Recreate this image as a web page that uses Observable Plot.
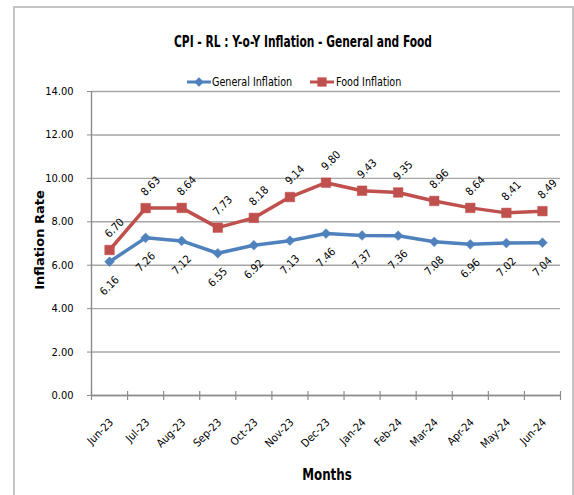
<!DOCTYPE html>
<html><head><meta charset="utf-8">
<script src="https://cdn.jsdelivr.net/npm/d3@7"></script>
<script src="https://cdn.jsdelivr.net/npm/@observablehq/plot@0.6"></script>
<style>
body{margin:0;background:#fff;}
#wrap{position:relative;width:574px;height:495px;overflow:hidden;font-family:"Liberation Sans Narrow","Arial Narrow","DejaVu Sans Condensed",sans-serif;color:#000;}
#frame{position:absolute;left:13px;top:6px;width:557px;height:540px;border:2px solid #c4c4c4;}
#title{position:absolute;left:0;width:606px;top:33px;text-align:center;font-weight:bold;font-size:15px;line-height:18px;white-space:nowrap;transform:scaleX(0.79);transform-origin:303px 50%;}
.lg{position:absolute;top:74px;height:16px;display:flex;align-items:center;}
.lgtext{position:absolute;top:74px;font-size:12px;line-height:16px;white-space:nowrap;transform:scaleX(0.89);transform-origin:0 50%;}
#ytitle{position:absolute;left:39px;top:240px;transform:translate(-50%,-50%) rotate(-90deg);font-family:"DejaVu Sans",sans-serif;font-weight:bold;font-size:13px;white-space:nowrap;}
#xtitle{position:absolute;left:0;width:654px;top:466px;text-align:center;font-weight:bold;font-size:15px;line-height:18px;transform:scaleX(0.88);transform-origin:327px 50%;}
#chart{position:absolute;left:0;top:0;}
</style>
</head><body>
<div id="wrap">
  <div id="frame"></div>
  <div id="chart"></div>
  <div id="title">CPI - RL : Y-o-Y Inflation - General and Food</div>
  <div id="legend"></div>
  <div id="ytitle">Inflation Rate</div>
  <div id="xtitle">Months</div>
</div>
<script>
const months = ["Jun-23","Jul-23","Aug-23","Sep-23","Oct-23","Nov-23","Dec-23","Jan-24","Feb-24","Mar-24","Apr-24","May-24","Jun-24"];
const generalInflation = [6.16, 7.26, 7.12, 6.55, 6.92, 7.13, 7.46, 7.37, 7.36, 7.08, 6.96, 7.02, 7.04];
const foodInflation = [6.70, 8.63, 8.64, 7.73, 8.18, 9.14, 9.80, 9.43, 9.35, 8.96, 8.64, 8.41, 8.49];
const yTicks = [0, 2, 4, 6, 8, 10, 12, 14];
const seriesNames = ["General Inflation", "Food Inflation"];
const seriesColors = ["#4f81bd", "#c0504d"];

const general = months.map((m, i) => ({month: m, pos: i + 0.5, value: generalInflation[i], series: seriesNames[0]}));
const food = months.map((m, i) => ({month: m, pos: i + 0.5, value: foodInflation[i], series: seriesNames[1]}));
const bounds = d3.range(months.length + 1);
const fmt = d3.format(".2f");
const font = '"Liberation Sans Narrow","Arial Narrow","DejaVu Sans Condensed",sans-serif';

const chart = Plot.plot({
  width: 574,
  height: 495,
  marginLeft: 91,
  marginRight: 14,
  marginTop: 91,
  marginBottom: 100,
  style: {fontFamily: font, fontSize: "11px", color: "#000", background: "transparent"},
  x: {domain: [0, months.length], axis: null},
  y: {domain: [0, 14], axis: null},
  color: {domain: seriesNames, range: seriesColors},
  marks: [
    Plot.gridY(yTicks, {stroke: "#a6a6a6", strokeOpacity: 1, strokeWidth: 1.4}),
    Plot.ruleX([0], {stroke: "#8c8c8c", strokeWidth: 1.4}),
    Plot.ruleY([0], {stroke: "#8c8c8c", strokeWidth: 1.4}),
    Plot.axisY(yTicks, {tickFormat: fmt, tickSize: 4, tickPadding: 14, label: null, stroke: "#8c8c8c", fontSize: 11}),
    Plot.ruleX(bounds, {y1: 0, y2: 0, insetTop: 5, insetBottom: 4, stroke: "#8c8c8c", strokeWidth: 1.2}),
    Plot.text(months, {x: (d, i) => i + 0.5, y: 0, text: d => d, rotate: -45, textAnchor: "end", dx: 2, dy: 25, fontSize: 11}),
    Plot.line(general, {x: "pos", y: "value", stroke: "series", strokeWidth: 3.5}),
    Plot.line(food, {x: "pos", y: "value", stroke: "series", strokeWidth: 3.5}),
    Plot.dot(general, {x: "pos", y: "value", fill: "series", symbol: "diamond2", r: 4.4, stroke: "series", strokeWidth: 0.5}),
    Plot.dot(food, {x: "pos", y: "value", fill: "series", symbol: "square", r: 5.4, stroke: "series", strokeWidth: 0.5}),
    Plot.text(general, {x: "pos", y: "value", text: d => fmt(d.value), rotate: -45, dx: 0, dy: 24, fontSize: 11}),
    Plot.text(food, {x: "pos", y: "value", text: d => fmt(d.value), rotate: -45, dx: 5, dy: -22, fontSize: 11})
  ]
});
document.getElementById("chart").appendChild(chart);

// legend
const legend = d3.select("#legend");
const symbols = [d3.symbolDiamond2, d3.symbolSquare];
const sizes = [60, 85];
const lineLeft = [187, 310];
const textLeft = [212, 336];
seriesNames.forEach((name, k) => {
  const s = legend.append("div").attr("class", "lg").style("left", lineLeft[k] + "px")
    .append("svg").attr("width", 24).attr("height", 12);
  s.append("line").attr("x1", 0).attr("x2", 24).attr("y1", 6).attr("y2", 6)
    .attr("stroke", seriesColors[k]).attr("stroke-width", 3);
  s.append("path").attr("transform", "translate(12,6)")
    .attr("d", d3.symbol(symbols[k], sizes[k])()).attr("fill", seriesColors[k]);
  legend.append("div").attr("class", "lgtext").style("left", textLeft[k] + "px").text(name);
});
</script>
</body></html>
